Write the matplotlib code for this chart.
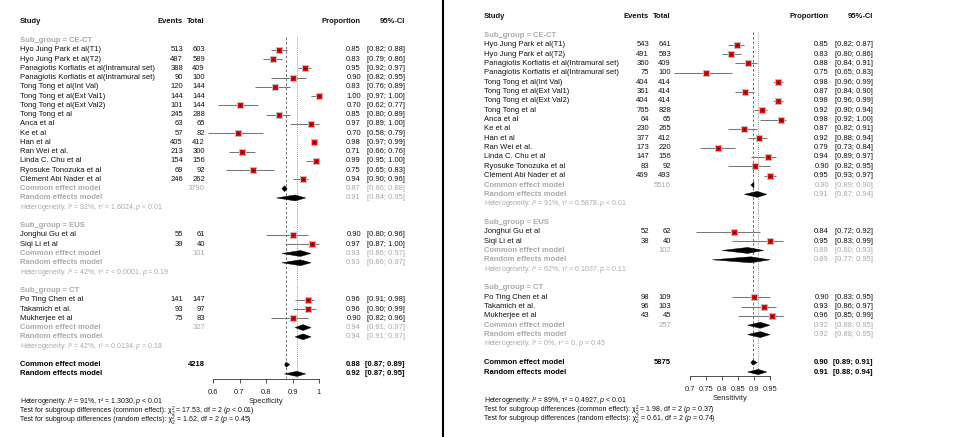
import matplotlib
matplotlib.use("Agg")
import matplotlib.pyplot as plt
import matplotlib.transforms as mtransforms
from matplotlib.patches import Polygon
from matplotlib.lines import Line2D

plt.rcParams['font.family'] = ['Liberation Sans', 'DejaVu Sans']
plt.rcParams['mathtext.fontset'] = 'custom'
plt.rcParams['mathtext.rm'] = 'Liberation Sans'
plt.rcParams['mathtext.it'] = 'Liberation Sans:italic'
plt.rcParams['mathtext.bf'] = 'Liberation Sans:bold'

W, H, DPI = 956, 437, 100

# ---------------- data ----------------
groups = ["CE-CT", "EUS", "CT"]
study_names = [
    ["Hyo Jung Park et al(T1)", "Hyo Jung Park et al(T2)",
     "Panagiotis Korfiatis et al(Intramural set)", "Panagiotis Korfiatis et al(Intramural set)",
     "Tong Tong et al(Int Val)", "Tong Tong et al(Ext Val1)", "Tong Tong et al(Ext Val2)",
     "Tong Tong et al", "Anca et al", "Ke et al", "Han et al", "Ran Wei et al.",
     "Linda C. Chu et al", "Ryosuke Tonozuka et al", "Clément Abi Nader et al"],
    ["Jonghui Gu et al", "Siqi Li et al"],
    ["Po Ting Chen et al", "Takamich et al.", "Mukherjee et al"],
]

# specificity (left)
spec_events = [[513, 487, 388, 90, 120, 144, 101, 245, 63, 57, 405, 213, 154, 69, 246], [55, 39], [141, 93, 75]]
spec_total = [[603, 589, 409, 100, 144, 144, 144, 288, 65, 82, 412, 300, 156, 92, 262], [61, 40], [147, 97, 83]]
spec_lo = [[0.82, 0.79, 0.92, 0.82, 0.76, 0.97, 0.62, 0.80, 0.89, 0.58, 0.97, 0.66, 0.95, 0.65, 0.90], [0.80, 0.87], [0.91, 0.90, 0.82]]
spec_hi = [[0.88, 0.86, 0.97, 0.95, 0.89, 1.00, 0.77, 0.89, 1.00, 0.79, 0.99, 0.76, 1.00, 0.83, 0.96], [0.96, 1.00], [0.98, 0.99, 0.96]]
spec_common = [(0.87, 0.86, 0.88), (0.93, 0.86, 0.97), (0.94, 0.91, 0.97)]
spec_random = [(0.91, 0.84, 0.95), (0.93, 0.86, 0.97), (0.94, 0.91, 0.97)]
spec_het = [("92%", "1.6024", "< 0.01"), ("42%", "< 0.0001", "= 0.19"), ("42%", "0.0134", "= 0.18")]
spec_overall_common = (0.876, 0.87, 0.89)
spec_overall_random = (0.917, 0.87, 0.95)
spec_overall_het = ("91%", "1.3030", "< 0.01")
spec_test_common = ("17.53", "< 0.01")
spec_test_random = ("1.62", "= 0.45")

# sensitivity (right)
sens_events = [[543, 491, 360, 75, 404, 361, 404, 765, 64, 230, 377, 173, 147, 83, 469], [52, 38], [98, 96, 43]]
sens_total = [[641, 593, 409, 100, 414, 414, 414, 828, 65, 265, 412, 220, 156, 92, 493], [62, 40], [109, 103, 45]]
sens_lo = [[0.82, 0.80, 0.84, 0.65, 0.96, 0.84, 0.96, 0.90, 0.92, 0.82, 0.88, 0.73, 0.89, 0.82, 0.93], [0.72, 0.83], [0.83, 0.86, 0.85]]
sens_hi = [[0.87, 0.86, 0.91, 0.83, 0.99, 0.90, 0.99, 0.94, 1.00, 0.91, 0.94, 0.84, 0.97, 0.95, 0.97], [0.92, 0.99], [0.95, 0.97, 0.99]]
sens_common = [(0.90, 0.89, 0.90), (0.88, 0.80, 0.93), (0.92, 0.88, 0.95)]
sens_random = [(0.91, 0.87, 0.94), (0.89, 0.77, 0.95), (0.92, 0.88, 0.95)]
sens_het = [("91%", "0.5878", "< 0.01"), ("62%", "0.1037", "= 0.11"), ("0%", "0", "= 0.45")]
sens_overall_common = (0.897, 0.89, 0.91)
sens_overall_random = (0.913, 0.88, 0.94)
sens_overall_het = ("89%", "0.4927", "< 0.01")
sens_test_common = ("1.98", "= 0.37")
sens_test_random = ("0.61", "= 0.74")

spec_ticks = [0.6, 0.7, 0.8, 0.9, 1.0]
spec_ticklabels = ["0.6", "0.7", "0.8", "0.9", "1"]
sens_ticks = [0.7, 0.75, 0.8, 0.85, 0.9, 0.95]
sens_ticklabels = ["0.7", "0.75", "0.8", "0.85", "0.9", "0.95"]

GRAY = "#A9A9A9"
FS = 5.5
FS_SMALL = 5.05


def fmt_ci(lo, hi):
    return "[%.2f; %.2f]" % (lo, hi)


def het_text(h):
    i2, tau, p = h
    return "Heterogeneity: $I$² = %s, τ² = %s, $p$ %s" % (i2, tau, p)


def diamond(ax, est, lo, hi, y, h=0.32):
    ax.add_patch(Polygon([(lo, y), (est, y - h), (hi, y), (est, y + h)], closed=True,
                         facecolor="black", edgecolor="black", lw=0.3, clip_on=False, zorder=4))


def panel(fig, g, events, total, lo, hi, common, random, het, ov_c, ov_r, ov_het, t_c, t_r,
          ticks, ticklabels, xlabel):
    y0, dy = g["y0"], g["dy"]
    a0, a1 = g["ax_px"]
    ax = fig.add_axes([a0 / W, (H - g["axis_y"]) / H, (a1 - a0) / W, g["axis_y"] / H])
    ax.set_facecolor("none")
    ax.set_xlim(ticks[0], ticks[-1])
    ax.set_ylim((g["axis_y"] - y0) / dy, -y0 / dy)
    for s in ["left", "top", "right"]:
        ax.spines[s].set_visible(False)
    ax.spines["bottom"].set_linewidth(0.6)
    ax.spines["bottom"].set_color("#333333")
    ax.set_yticks([])
    ax.set_xticks(ticks)
    ax.set_xticklabels(ticklabels)
    ax.tick_params(axis="x", direction="out", length=3, width=0.6, color="#333333",
                   labelsize=FS, pad=4.5, labelcolor="#222222")
    ax.set_xlabel(xlabel, fontsize=FS, labelpad=1.5, color="#222222")

    px = mtransforms.blended_transform_factory(
        mtransforms.Affine2D().scale(1.0 / W, 1.0) + fig.transFigure, ax.transData)

    def txt(x, y, s, ha="left", color="#111111", weight="normal", size=FS):
        return ax.text(x, y, s, transform=px, ha=ha, va="center", color=color,
                       fontweight=weight, fontsize=size, clip_on=False)

    def chi_line(x, y, label, stat):
        # "…: χ²₂ = stat, df = 2 (p …)" with the stacked 2s as tiny separate texts
        t1 = txt(x, y, "Test for subgroup differences (%s): χ" % label, size=FS_SMALL)
        sup = ax.annotate("2", xy=(1, 0.78), xycoords=t1, ha="left", va="center",
                          fontsize=3.4, color="#111111", annotation_clip=False)
        ax.annotate("2", xy=(1, 0.12), xycoords=t1, ha="left", va="center",
                    fontsize=3.4, color="#111111", annotation_clip=False)
        ax.annotate(" = %s, df = 2 ($p$ %s)" % stat, xy=(1, 0.5), xycoords=(sup, t1),
                    ha="left", va="center", fontsize=FS_SMALL, color="#111111",
                    annotation_clip=False)

    # headers
    txt(g["study_x"], 0, "Study", weight="bold")
    txt(g["ev_x"], 0, "Events", ha="right", weight="bold")
    txt(g["tot_x"], 0, "Total", ha="right", weight="bold")
    txt(g["prop_x"], 0, "Proportion", ha="right", weight="bold")
    txt(g["ci_x"], 0, "95%-CI", ha="right", weight="bold")

    row = 2
    for k, grp in enumerate(groups):
        txt(g["study_x"], row, "Sub_group = " + grp, color=GRAY, weight="bold")
        row += 1
        for j, name in enumerate(study_names[k]):
            e, n = events[k][j], total[k][j]
            p = e / n
            txt(g["study_x"], row, name)
            txt(g["ev_x"], row, str(e), ha="right")
            txt(g["tot_x"], row, str(n), ha="right")
            txt(g["prop_x"], row, "%.2f" % p, ha="right")
            txt(g["ci_x"], row, fmt_ci(lo[k][j], hi[k][j]), ha="right")
            ax.plot([lo[k][j], hi[k][j]], [row, row], color="#777777", lw=0.75,
                    clip_on=False, zorder=2, solid_capstyle="butt")
            ax.plot([p], [row], marker="s", ms=5.0, mfc="#FF0000", mec="#C0C0C0",
                    mew=0.7, clip_on=False, zorder=3)
            ax.plot([p], [row], marker="s", ms=1.0, mfc="black", mec="black",
                    mew=0.2, clip_on=False, zorder=4)
            row += 1
        c, r = common[k], random[k]
        txt(g["study_x"], row, "Common effect model", color=GRAY, weight="bold")
        txt(g["tot_x"], row, str(sum(total[k])), ha="right", color=GRAY)
        txt(g["prop_x"], row, "%.2f" % c[0], ha="right", color=GRAY)
        txt(g["ci_x"], row, fmt_ci(c[1], c[2]), ha="right", color=GRAY)
        diamond(ax, c[0], c[1], c[2], row)
        row += 1
        txt(g["study_x"], row, "Random effects model", color=GRAY, weight="bold")
        txt(g["prop_x"], row, "%.2f" % r[0], ha="right", color=GRAY)
        txt(g["ci_x"], row, fmt_ci(r[1], r[2]), ha="right", color=GRAY)
        diamond(ax, r[0], r[1], r[2], row)
        row += 1
        txt(g["study_x"], row, het_text(het[k]), color=GRAY, size=FS_SMALL)
        row += 2

    # overall
    grand = sum(sum(t) for t in total)
    txt(g["study_x"], row, "Common effect model", color="black", weight="bold")
    txt(g["tot_x"], row, str(grand), ha="right", color="black", weight="bold")
    txt(g["prop_x"], row, "%.2f" % ov_c[0], ha="right", color="black", weight="bold")
    txt(g["ci_x"], row, fmt_ci(ov_c[1], ov_c[2]), ha="right", color="black", weight="bold")
    diamond(ax, ov_c[0], ov_c[1], ov_c[2], row, h=0.28)
    row += 1
    txt(g["study_x"], row, "Random effects model", color="black", weight="bold")
    txt(g["prop_x"], row, "%.2f" % ov_r[0], ha="right", color="black", weight="bold")
    txt(g["ci_x"], row, fmt_ci(ov_r[1], ov_r[2]), ha="right", color="black", weight="bold")
    diamond(ax, ov_r[0], ov_r[1], ov_r[2], row, h=0.28)

    # reference lines
    ybot = (g["axis_y"] - y0) / dy
    ax.plot([ov_c[0]] * 2, [1.6, ybot], color="#555555", lw=0.6, ls=(0, (3, 2.5)), zorder=1)
    ax.plot([ov_r[0]] * 2, [1.6, ybot], color="#777777", lw=0.6, ls=(0, (1, 1.5)), zorder=1)

    # bottom notes
    yb = g["note_row"]
    txt(g["study_x"], yb, het_text(ov_het), color="#111111", size=FS_SMALL)
    chi_line(g["study_x"], yb + 0.98, "common effect", t_c)
    chi_line(g["study_x"], yb + 1.96, "random effects", t_r)
    return ax


fig = plt.figure(figsize=(W / DPI, H / DPI), dpi=DPI)
fig.patch.set_facecolor("white")

left_geom = dict(study_x=20, ev_x=183, tot_x=205, prop_x=361, ci_x=405, ax_px=(213, 319),
                 y0=22, dy=9.26, axis_y=378.5, note_row=41.0)
right_geom = dict(study_x=484, ev_x=649, tot_x=671, prop_x=829, ci_x=873, ax_px=(690, 770),
                  y0=16.7, dy=9.35, axis_y=376, note_row=41.05)

panel(fig, left_geom, spec_events, spec_total, spec_lo, spec_hi, spec_common, spec_random,
      spec_het, spec_overall_common, spec_overall_random, spec_overall_het,
      spec_test_common, spec_test_random, spec_ticks, spec_ticklabels, "Specificity")
panel(fig, right_geom, sens_events, sens_total, sens_lo, sens_hi, sens_common, sens_random,
      sens_het, sens_overall_common, sens_overall_random, sens_overall_het,
      sens_test_common, sens_test_random, sens_ticks, sens_ticklabels, "Sensitivity")

# panel separator
fig.add_artist(Line2D([442.5 / W] * 2, [0, 1], color="black", lw=1.5, transform=fig.transFigure))

fig.savefig("out.png", dpi=DPI)
